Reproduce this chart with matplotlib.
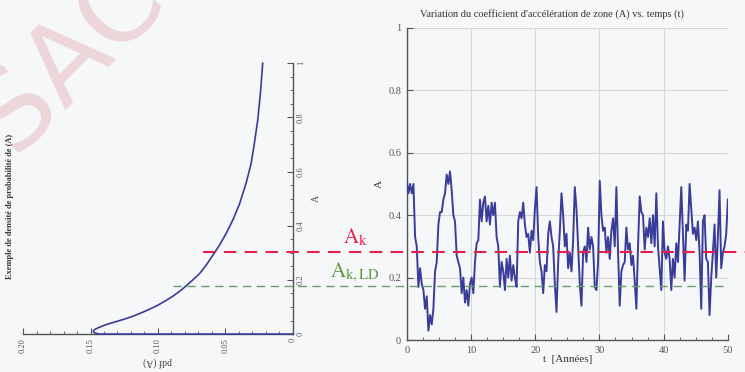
import numpy as np
import matplotlib
matplotlib.use("Agg")
import matplotlib.pyplot as plt
import matplotlib.transforms as mtransforms
from matplotlib.ticker import MultipleLocator

plt.rcParams["font.family"] = ["Liberation Serif", "DejaVu Serif"]
plt.rcParams["mathtext.fontset"] = "stix"

# ---- data -----------------------------------------------------------------
# Probability density of the zone acceleration coefficient A
pdf_A = [0.0, 0.1436, 0.1473, 0.1480, 0.1468, 0.1436, 0.1386, 0.1337, 0.1287,
         0.1238, 0.1188, 0.1126, 0.1064, 0.1002, 0.0941, 0.0879, 0.0817,
         0.0755, 0.0693, 0.0644, 0.0594, 0.0545, 0.0495, 0.0446, 0.0396,
         0.0347, 0.0309, 0.0285, 0.0260, 0.0240, 0.0223]
A_grid = [0.0, 0.0, 0.0049, 0.0111, 0.0173, 0.0247, 0.0346, 0.0420, 0.0494,
          0.0568, 0.0654, 0.0778, 0.0914, 0.1062, 0.1235, 0.1432, 0.1667,
          0.1938, 0.2222, 0.2531, 0.2901, 0.3272, 0.3704, 0.4198, 0.4790,
          0.5556, 0.6296, 0.7037, 0.7901, 0.8889, 1.0]

# Time history of A over 50 years
A_series = [
    0.51, 0.47, 0.50, 0.47, 0.50, 0.33, 0.30, 0.17, 0.23, 0.18,
    0.16, 0.10, 0.14, 0.03, 0.08, 0.05, 0.10, 0.22, 0.25, 0.37,
    0.41, 0.41, 0.45, 0.47, 0.53, 0.50, 0.54, 0.48, 0.40, 0.38,
    0.27, 0.25, 0.23, 0.15, 0.20, 0.12, 0.16, 0.11, 0.18, 0.20,
    0.15, 0.25, 0.31, 0.32, 0.45, 0.38, 0.44, 0.46, 0.38, 0.43,
    0.37, 0.44, 0.40, 0.44, 0.33, 0.30, 0.17, 0.25, 0.22, 0.16,
    0.26, 0.20, 0.27, 0.19, 0.24, 0.20, 0.17, 0.38, 0.41, 0.39,
    0.44, 0.37, 0.33, 0.34, 0.28, 0.35, 0.32, 0.42, 0.49, 0.33,
    0.25, 0.22, 0.15, 0.24, 0.22, 0.34, 0.38, 0.33, 0.30, 0.18,
    0.09, 0.25, 0.35, 0.47, 0.40, 0.30, 0.34, 0.23, 0.28, 0.22,
    0.32, 0.49, 0.42, 0.30, 0.18, 0.11, 0.28, 0.30, 0.25, 0.36,
    0.29, 0.33, 0.30, 0.17, 0.16, 0.25, 0.51, 0.40, 0.35, 0.36,
    0.28, 0.33, 0.26, 0.35, 0.39, 0.30, 0.49, 0.28, 0.11, 0.22,
    0.24, 0.25, 0.36, 0.29, 0.31, 0.24, 0.27, 0.19, 0.10, 0.30,
    0.46, 0.41, 0.40, 0.29, 0.36, 0.33, 0.39, 0.31, 0.40, 0.30,
    0.47, 0.30, 0.23, 0.16, 0.38, 0.28, 0.26, 0.30, 0.26, 0.16,
    0.26, 0.20, 0.31, 0.25, 0.37, 0.49, 0.34, 0.19, 0.37, 0.35,
    0.50, 0.42, 0.34, 0.36, 0.32, 0.38, 0.28, 0.10, 0.38, 0.40,
    0.26, 0.25, 0.08, 0.20, 0.28, 0.37, 0.20, 0.33, 0.48, 0.23,
    0.28, 0.30, 0.34, 0.45,
]
t_years = np.linspace(0, 50, len(A_series))

A_k = 0.283      # threshold A_k
A_k_LD = 0.174   # threshold A_k,LD

x_ticks_pdf = [0.20, 0.15, 0.10, 0.05, 0.0]
x_ticklabels_pdf = ["0.20", "0.15", "0.10", "0.05", "0"]
a_ticks = [0, 0.2, 0.4, 0.6, 0.8, 1.0]
a_ticklabels = ["0", "0.2", "0.4", "0.6", "0.8", "1"]
t_ticks = [0, 10, 20, 30, 40, 50]

# ---- styling -----------------------------------------------------------------
bg = "#f6f7f9"
curve_col = "#3a3c9a"
axis_col = "#555555"
tick_col = "#555555"

fig = plt.figure(figsize=(7.45, 3.72), dpi=100, facecolor=bg)

# ---- left panel: rotated density plot ---------------------------------------
ax1 = fig.add_axes([0.031, 0.102, 0.362, 0.728])
ax1.set_facecolor("none")
ax1.plot(pdf_A, A_grid, color=curve_col, lw=1.2, clip_on=False, zorder=3)
ax1.set_xlim(0.20, 0.0)
ax1.set_ylim(0, 1)
for s in ("left", "top"):
    ax1.spines[s].set_visible(False)
for s in ("right", "bottom"):
    ax1.spines[s].set_color(axis_col)
    ax1.spines[s].set_linewidth(1.0)
ax1.yaxis.tick_right()
ax1.yaxis.set_label_position("right")
ax1.set_xticks(x_ticks_pdf)
ax1.set_xticklabels(x_ticklabels_pdf, rotation=90, fontsize=6, color=tick_col)
ax1.set_yticks(a_ticks)
ax1.set_yticklabels(a_ticklabels, rotation=90, fontsize=6, color=tick_col,
                    va="center")
ax1.xaxis.set_minor_locator(MultipleLocator(0.01))
ax1.yaxis.set_minor_locator(MultipleLocator(0.05))
ax1.tick_params(which="both", direction="in", color=axis_col)
ax1.tick_params(which="major", length=4, width=0.8, pad=3)
ax1.tick_params(which="minor", length=2, width=0.6)
ax1.set_xlabel("pdf (A)", rotation=180, fontsize=7, color="#444444", labelpad=3)
ax1.set_ylabel("A", rotation=90, fontsize=7, color="#444444", labelpad=5)
fig.text(0.014, 0.444, "Exemple de densité de probabilité de (A)", rotation=90,
         fontsize=6, fontweight="bold", color="#333333", ha="center", va="center")

# ---- right panel: time history -----------------------------------------------
ax2 = fig.add_axes([0.546, 0.086, 0.431, 0.839])
ax2.set_facecolor("none")
ax2.plot(t_years, A_series, color=curve_col, lw=1.4, zorder=3)
ax2.set_xlim(0, 50)
ax2.set_ylim(0, 1)
ax2.set_xticks(t_ticks)
ax2.set_yticks(a_ticks)
ax2.set_yticklabels(a_ticklabels)
ax2.xaxis.set_minor_locator(MultipleLocator(2.5))
ax2.grid(True, color="#d4d6d8", lw=0.8)
ax2.set_axisbelow(True)
for s in ("right", "top"):
    ax2.spines[s].set_visible(False)
for s in ("left", "bottom"):
    ax2.spines[s].set_color(axis_col)
    ax2.spines[s].set_linewidth(1.0)
ax2.tick_params(which="both", direction="in", color=axis_col, labelsize=7.5,
                labelcolor=tick_col)
ax2.tick_params(which="major", length=4, pad=4)
ax2.tick_params(which="minor", length=2)
ax2.set_xlabel("t  [Années]", fontsize=8, color="#333333", labelpad=0)
ax2.set_ylabel("A", fontsize=8, color="#333333", labelpad=3)
fig.text(0.741, 0.962, "Variation du coefficient d'accélération de zone (A) vs. temps (t)",
         fontsize=7.5, color="#333333", ha="center", va="center")

# ---- threshold lines spanning both panels ----------------------------------------
blend = mtransforms.blended_transform_factory(fig.transFigure, ax2.transData)
ax2.plot([0.272, 1.0], [A_k, A_k], transform=blend, clip_on=False,
         color="#e5204c", lw=1.5, ls=(0, (6, 4)), zorder=4)
ax2.plot([0.232, 0.973], [A_k_LD, A_k_LD], transform=blend, clip_on=False,
         color="#6f9a6a", lw=1.0, ls=(0, (6, 4)), zorder=4)
ax2.text(0.477, A_k + 0.01, r"$\mathrm{A}_{\mathrm{k}}$", transform=blend,
         color="#e5204c", fontsize=15, ha="center", va="bottom")
ax2.text(0.476, A_k_LD + 0.005, r"$\mathrm{A}_{\mathrm{k,LD}}$", transform=blend,
         color="#5c9a3c", fontsize=15, ha="center", va="bottom")

# ---- watermark ----------------------------------------------------------------
fig.text(0.082, 0.872, "SAC", rotation=45, rotation_mode="anchor", fontsize=78,
         color="#e2a9b0", alpha=0.42, ha="center", va="center_baseline",
         family=["Liberation Sans Narrow", "DejaVu Sans"], zorder=10)

fig.savefig("out.png", dpi=100, facecolor=bg)
